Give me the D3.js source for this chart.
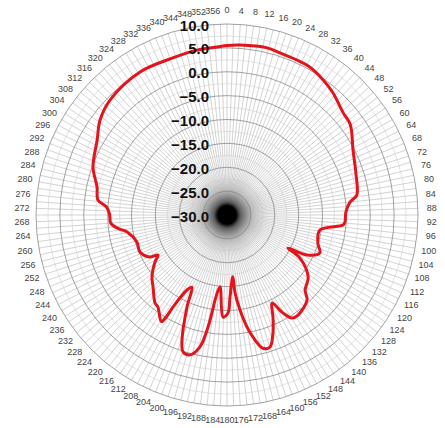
<!DOCTYPE html>
<html>
<head>
<meta charset="utf-8">
<script src="https://cdn.jsdelivr.net/npm/d3@7"></script>
<style>
  body { margin: 0; background: #fff; }
  svg { display: block; }
</style>
</head>
<body>
<div id="chart"></div>
<script>
var width = 445, height = 428;
var cx = 227, cy = 215, outerR = 191;

// pattern: angle (deg, clockwise from top) and gain (dB)
var angles = [0, 4.4, 13.5, 18.1, 24.3, 29.3, 35, 40.8, 48.7, 53.8, 62.7, 72.8, 81.3, 84, 88.6, 93.4, 94.9,
  99.2, 107.1, 112.2, 116.6, 118.4, 120.5, 127.4, 133.9, 136.7, 144.6, 147.8, 150.3, 152.9, 155.7,
  158.7, 162, 164.9, 167.4, 169.9, 172.2, 174.1, 174.6, 177.9, 179.4, 182.2, 185.6, 188, 188.6,
  189.6, 191.6, 194.8, 197.8, 199.8, 203.5, 205.9, 208.1, 210.4, 210.8, 211.6, 216.9, 219.3,
  225.8, 230.4, 236.9, 239.9, 241.4, 247, 253.3, 260.4, 263, 266, 270.5, 273.8, 276.6, 282.2,
  289.7, 300, 306.8, 314.5, 328.7, 341, 349.7, 356.6];
var gains = [5.5, 5.7, 6.0, 5.7, 5.6, 5.5, 4.8, 3.9, 2.4, 2.0, -0.3, -1.7, -2.5, -4.1, -5.1, -5.25, -5.6,
  -10.3, -10.1, -9.0, -11.3, -15.5, -12.3, -8.6, -7.3, -5.55, -4.3, -4.5, -6.4, -9.3, -6.6,
  -3.5, -0.9, -1.1, -3.2, -6.2, -9.9, -13.6, -17, -12.8, -9.5, -8.6, -14.9, -12, -9.9,
  -6.2, -1.8, 0.3, 0.1, -2.2, -9, -13.2, -12.2, -7.7, -5.2, -3.8, -5.9, -6.2,
  -8.4, -9.6, -12, -13.3, -11.6, -10.2, -10.3, -8.8, -7.0, -5.6, -5.4, -4.7, -2.8, -2.15,
  -0.2, 1.4, 3.2, 4.35, 5.05, 4.8, 5.1, 5.25];

var dbTicks = [-30, -25, -20, -15, -10, -5, 0, 5, 10];
var dbMinor = [-27.5, -22.5, -17.5, -12.5, -7.5, -2.5, 2.5, 7.5];
var angleTicks = d3.range(0, 360, 4);
var spokes = d3.range(0, 360, 2);

var svg = d3.select("#chart")
  .append("svg")
  .attr("width", width)
  .attr("height", height);

var defs = svg.append("defs");
var grad = defs.append("radialGradient").attr("id", "core");
grad.append("stop").attr("offset", "0%").attr("stop-color", "#000").attr("stop-opacity", 1);
grad.append("stop").attr("offset", "22%").attr("stop-color", "#000").attr("stop-opacity", 1);
grad.append("stop").attr("offset", "32%").attr("stop-color", "#444").attr("stop-opacity", 0.8);
grad.append("stop").attr("offset", "60%").attr("stop-color", "#888").attr("stop-opacity", 0.35);
grad.append("stop").attr("offset", "100%").attr("stop-color", "#bbb").attr("stop-opacity", 0);

var g = svg.append("g")
  .attr("transform", "translate(" + cx + "," + cy + ")");

var r = d3.scaleLinear().domain([-30, 10]).range([0, outerR]);
var toRad = function(a) { return a * Math.PI / 180; };

// spokes
g.selectAll(".spoke")
  .data(spokes)
  .enter()
  .append("line")
  .attr("class", "spoke")
  .attr("x1", 0).attr("y1", 0)
  .attr("x2", function(d) { return outerR * Math.sin(toRad(d)); })
  .attr("y2", function(d) { return -outerR * Math.cos(toRad(d)); })
  .attr("stroke", "#b5b5b5")
  .attr("stroke-width", 0.6);

// minor rings
g.selectAll(".ring-minor")
  .data(dbMinor)
  .enter()
  .append("circle")
  .attr("r", function(d) { return r(d); })
  .attr("fill", "none")
  .attr("stroke", "#cfcfcf")
  .attr("stroke-width", 0.6);

// major rings
g.selectAll(".ring")
  .data(dbTicks.slice(1))
  .enter()
  .append("circle")
  .attr("r", function(d) { return r(d); })
  .attr("fill", "none")
  .attr("stroke", "#8a8a8a")
  .attr("stroke-width", 0.8);

// dark core
g.append("circle")
  .attr("r", 42)
  .attr("fill", "url(#core)");

// angle labels
g.selectAll(".alabel")
  .data(angleTicks)
  .enter()
  .append("text")
  .attr("class", "alabel")
  .attr("x", function(d) { return 205 * Math.sin(toRad(d)); })
  .attr("y", function(d) { return -205 * Math.cos(toRad(d)); })
  .attr("text-anchor", "middle")
  .attr("dominant-baseline", "central")
  .attr("font-family", "Liberation Sans, Arial, sans-serif")
  .attr("font-size", 9)
  .attr("fill", "#444")
  .text(function(d) { return d; });

// pattern
var pts = angles.map(function(a, i) { return { angle: a, gain: gains[i] }; });
var line = d3.lineRadial()
  .angle(function(d) { return toRad(d.angle); })
  .radius(function(d) { return r(d.gain); })
  .curve(d3.curveCatmullRomClosed.alpha(0.5));

g.append("path")
  .datum(pts)
  .attr("d", line)
  .attr("fill", "none")
  .attr("stroke", "#e3141b")
  .attr("stroke-width", 3)
  .attr("stroke-linejoin", "round");

// dB labels
g.selectAll(".dblabel")
  .data(dbTicks)
  .enter()
  .append("text")
  .attr("class", "dblabel")
  .attr("x", -18)
  .attr("y", function(d) { return -r(d) + 1; })
  .attr("text-anchor", "end")
  .attr("dominant-baseline", "central")
  .attr("font-family", "Liberation Sans, Arial, sans-serif")
  .attr("font-size", 15)
  .attr("font-weight", "bold")
  .attr("fill", "#111")
  .text(function(d) { return d3.format(".1f")(d); });
</script>
</body>
</html>
